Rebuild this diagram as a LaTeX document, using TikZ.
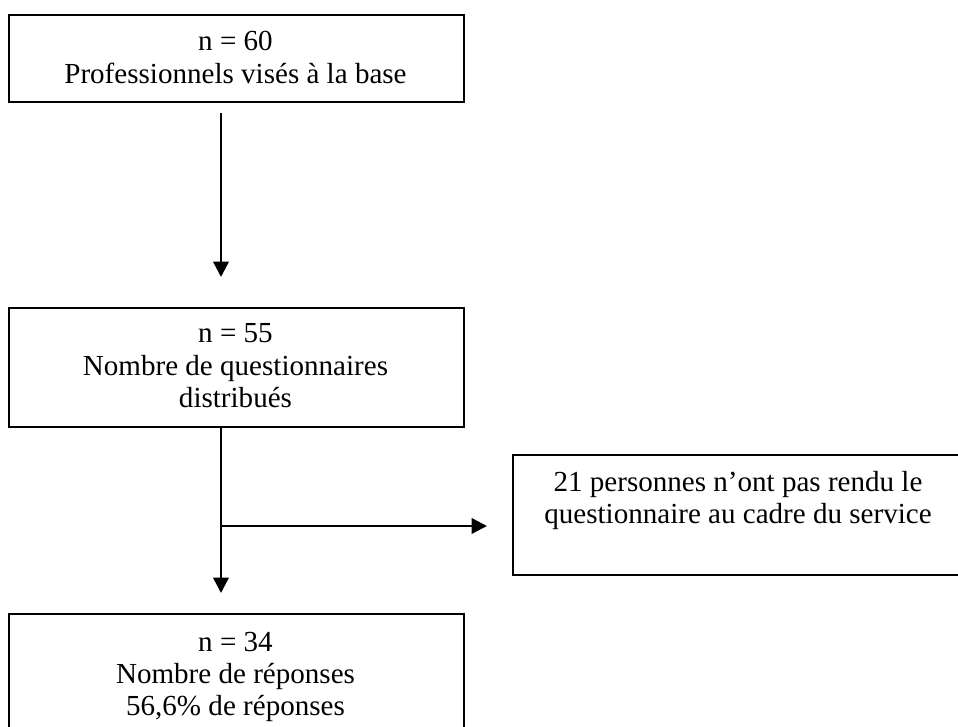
\documentclass[tikz,border=0pt]{standalone}
\usepackage{fontspec}
\setmainfont{Liberation Serif}
\usetikzlibrary{arrows.meta}

\begin{document}
\begin{tikzpicture}[x=0.75pt,y=-0.75pt,
  box/.style={draw=black, line width=1.4pt, inner sep=0pt, anchor=north west},
  line/.style={anchor=base, inner sep=0pt, font=\fontsize{21.8}{26}\selectfont},
  arr/.style={line width=1.8pt, -{Triangle[length=11.5pt,width=11.5pt]}}]
  % page frame; the flow overruns it on the right and at the bottom
  \clip (0,0) rectangle (958,727);
  \fill[white] (0,0) rectangle (958,727);

  % boxes
  \node[box, minimum width=455*0.75pt, minimum height=87*0.75pt] (b1) at (8,14) {};
  \node[box, minimum width=455*0.75pt, minimum height=119*0.75pt] (b2) at (8,307) {};
  \node[box, minimum width=452*0.75pt, minimum height=120*0.75pt] (b3) at (512,454) {};
  \node[box, minimum width=455*0.75pt, minimum height=160*0.75pt] (b4) at (8,613) {};

  % box texts, one line each
  \node[line] (t1a) at (235.5,51) {n = 60};
  \node[line] (t1b) at (235.5,84) {Professionnels visés à la base};

  \node[line] (t2a) at (235.5,343) {n = 55};
  \node[line] (t2b) at (235.5,375.5) {Nombre de questionnaires};
  \node[line] (t2c) at (235.5,408) {distribués};

  \node[line] (t3a) at (738,492) {21 personnes n’ont pas rendu le};
  \node[line] (t3b) at (738,524) {questionnaire au cadre du service};

  \node[line] (t4a) at (235.5,651) {n = 34};
  \node[line] (t4b) at (235.5,683) {Nombre de réponses};
  \node[line] (t4c) at (235.5,715) {56,6\% de réponses};

  % connector ends
  \coordinate (s1) at (221,113);
  \coordinate (e1) at (221,277);
  \coordinate (e2) at (221,593);
  \coordinate (br) at (221,526);
  \coordinate (e3) at (487,526);

  % connectors
  \draw[arr] (s1) -- (e1);
  \draw[arr] (b2.south -| s1) -- (e2);
  \draw[arr] (br) -- (e3);
\end{tikzpicture}
\end{document}
